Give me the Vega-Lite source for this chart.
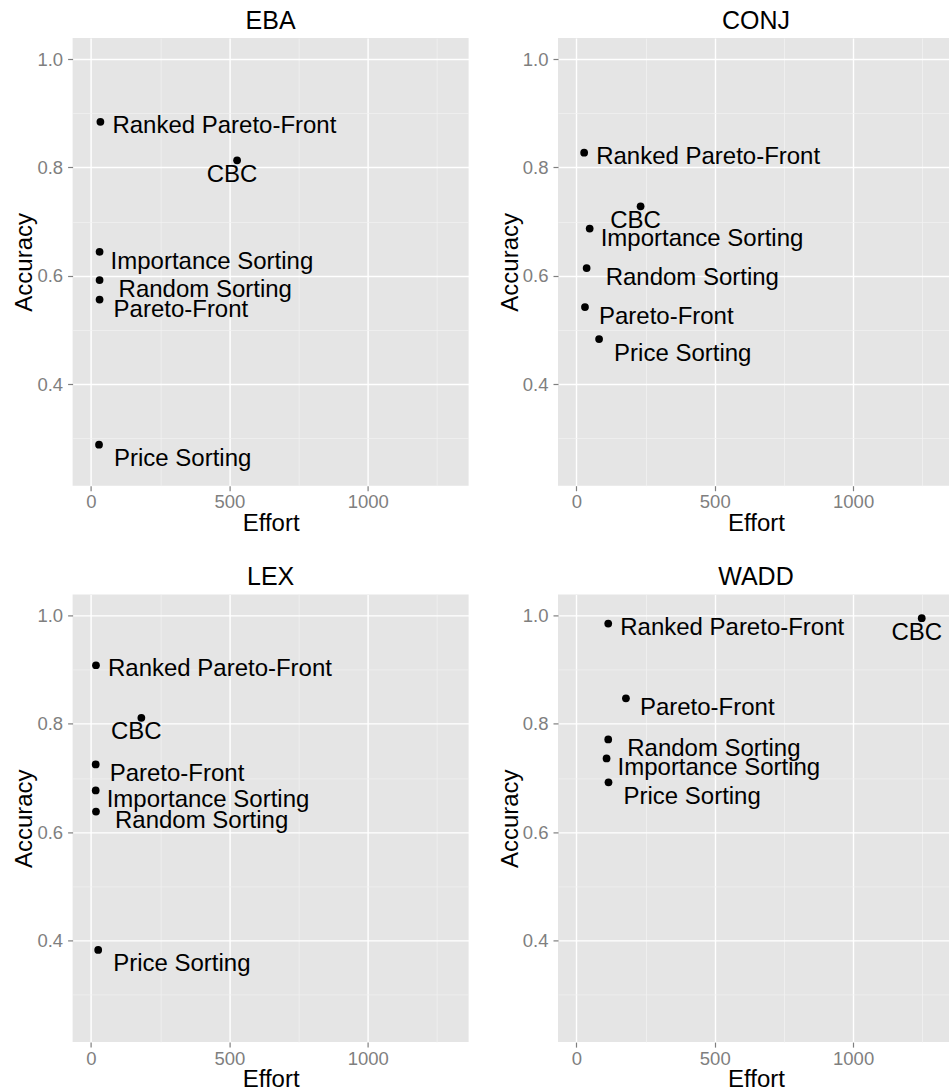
{
  "$schema": "https://vega.github.io/schema/vega-lite/v6.json",
  "padding": {"left": 12.6, "top": 9, "right": 0, "bottom": 0},
  "background": "#FFFFFF",
  "data": {"values": [
    {"rule": "EBA", "method": "Ranked Pareto-Front", "effort": 34, "accuracy": 0.884},
    {"rule": "EBA", "method": "CBC", "effort": 528, "accuracy": 0.813},
    {"rule": "EBA", "method": "Importance Sorting", "effort": 31, "accuracy": 0.644},
    {"rule": "EBA", "method": "Random Sorting", "effort": 31, "accuracy": 0.592},
    {"rule": "EBA", "method": "Pareto-Front", "effort": 31, "accuracy": 0.556},
    {"rule": "EBA", "method": "Price Sorting", "effort": 29, "accuracy": 0.288},
    {"rule": "CONJ", "method": "Ranked Pareto-Front", "effort": 28, "accuracy": 0.827},
    {"rule": "CONJ", "method": "CBC", "effort": 232, "accuracy": 0.728},
    {"rule": "CONJ", "method": "Importance Sorting", "effort": 48, "accuracy": 0.687},
    {"rule": "CONJ", "method": "Random Sorting", "effort": 37, "accuracy": 0.614},
    {"rule": "CONJ", "method": "Pareto-Front", "effort": 31, "accuracy": 0.542},
    {"rule": "CONJ", "method": "Price Sorting", "effort": 82, "accuracy": 0.483},
    {"rule": "LEX", "method": "Ranked Pareto-Front", "effort": 18, "accuracy": 0.908},
    {"rule": "LEX", "method": "CBC", "effort": 182, "accuracy": 0.811},
    {"rule": "LEX", "method": "Pareto-Front", "effort": 17, "accuracy": 0.725},
    {"rule": "LEX", "method": "Importance Sorting", "effort": 17, "accuracy": 0.677},
    {"rule": "LEX", "method": "Random Sorting", "effort": 18, "accuracy": 0.638},
    {"rule": "LEX", "method": "Price Sorting", "effort": 26, "accuracy": 0.3825},
    {"rule": "WADD", "method": "Ranked Pareto-Front", "effort": 115, "accuracy": 0.985},
    {"rule": "WADD", "method": "CBC", "effort": 1248, "accuracy": 0.995},
    {"rule": "WADD", "method": "Pareto-Front", "effort": 179, "accuracy": 0.847},
    {"rule": "WADD", "method": "Random Sorting", "effort": 115, "accuracy": 0.771},
    {"rule": "WADD", "method": "Importance Sorting", "effort": 109, "accuracy": 0.736},
    {"rule": "WADD", "method": "Price Sorting", "effort": 116, "accuracy": 0.692}
  ]},
  "facet": {
    "field": "rule",
    "type": "nominal",
    "sort": ["EBA", "CONJ", "LEX", "WADD"],
    "header": {"title": null, "labelFontSize": 25, "labelColor": "#000000", "labelFont": "Liberation Sans", "labelPadding": 4}
  },
  "columns": 2,
  "spacing": {"row": 108.4, "column": 89.4},
  "bounds": "flush",
  "resolve": {"axis": {"x": "independent", "y": "independent"}},
  "spec": {
    "width": 396,
    "height": 447.7,
    "encoding": {
      "x": {
        "field": "effort",
        "type": "quantitative",
        "title": "Effort",
        "scale": {"domain": [-66.5, 1364.6], "nice": false, "zero": false},
        "axis": {
          "values": [0, 250, 500, 750, 1000, 1250],
          "format": "d",
          "labelExpr": "datum.value % 500 == 0 ? datum.label : ''",
          "gridColor": {"condition": {"test": "datum.value % 500 != 0", "value": "#F2F2F2"}, "value": "#FFFFFF"},
          "gridWidth": {"condition": {"test": "datum.value % 500 != 0", "value": 0.7}, "value": 1.4},
          "tickOpacity": {"condition": {"test": "datum.value % 500 != 0", "value": 0}, "value": 1}
        }
      },
      "y": {
        "field": "accuracy",
        "type": "quantitative",
        "title": "Accuracy",
        "scale": {"domain": [0.2123, 1.0388], "nice": false, "zero": false},
        "axis": {
          "values": [0.3, 0.4, 0.5, 0.6, 0.7, 0.8, 0.9, 1.0],
          "format": ".1f",
          "labelExpr": "round(datum.value * 10) % 2 == 0 ? datum.label : ''",
          "gridColor": {"condition": {"test": "round(datum.value * 10) % 2 == 1", "value": "#F2F2F2"}, "value": "#FFFFFF"},
          "gridWidth": {"condition": {"test": "round(datum.value * 10) % 2 == 1", "value": 0.7}, "value": 1.4},
          "tickOpacity": {"condition": {"test": "round(datum.value * 10) % 2 == 1", "value": 0}, "value": 1}
        }
      }
    },
    "layer": [
      {"mark": {"type": "point", "filled": true, "color": "#000000", "size": 60, "opacity": 1, "strokeWidth": 0}},
      {
        "transform": [{"filter": {"field": "method", "equal": "Ranked Pareto-Front"}}],
        "mark": {"type": "text", "align": "left", "baseline": "alphabetic", "dx": 12, "dy": 11, "fontSize": 24, "color": "#000000"},
        "encoding": {"text": {"field": "method"}}
      },
      {
        "transform": [{"filter": {"field": "method", "equal": "Importance Sorting"}}],
        "mark": {"type": "text", "align": "left", "baseline": "alphabetic", "dx": 11, "dy": 17, "fontSize": 24, "color": "#000000"},
        "encoding": {"text": {"field": "method"}}
      },
      {
        "transform": [{"filter": {"field": "method", "equal": "Random Sorting"}}],
        "mark": {"type": "text", "align": "left", "baseline": "alphabetic", "dx": 19, "dy": 16.5, "fontSize": 24, "color": "#000000"},
        "encoding": {"text": {"field": "method"}}
      },
      {
        "transform": [{"filter": {"field": "method", "equal": "Pareto-Front"}}],
        "mark": {"type": "text", "align": "left", "baseline": "alphabetic", "dx": 14, "dy": 17, "fontSize": 24, "color": "#000000"},
        "encoding": {"text": {"field": "method"}}
      },
      {
        "transform": [{"filter": {"field": "method", "equal": "Price Sorting"}}],
        "mark": {"type": "text", "align": "left", "baseline": "alphabetic", "dx": 15, "dy": 21.5, "fontSize": 24, "color": "#000000"},
        "encoding": {"text": {"field": "method"}}
      },
      {
        "transform": [{"filter": {"field": "method", "equal": "CBC"}}],
        "mark": {"type": "text", "align": "center", "baseline": "alphabetic", "dx": -5, "dy": 21.5, "fontSize": 24, "color": "#000000"},
        "encoding": {"text": {"field": "method"}}
      }
    ]
  },
  "config": {
    "font": "Liberation Sans",
    "view": {"fill": "#E5E5E5", "stroke": null},
    "axis": {
      "domain": false,
      "labelColor": "#7F7F7F",
      "labelFontSize": 18.5,
      "tickColor": "#7F7F7F",
      "tickSize": 5,
      "tickWidth": 1.2,
      "titleFontSize": 24,
      "titleFontWeight": "normal",
      "titleColor": "#000000",
      "labelOverlap": false,
      "labelFlush": false
    },
    "axisX": {"labelPadding": 2, "titlePadding": 0},
    "axisY": {"labelPadding": 5, "titlePadding": 0}
  }
}
